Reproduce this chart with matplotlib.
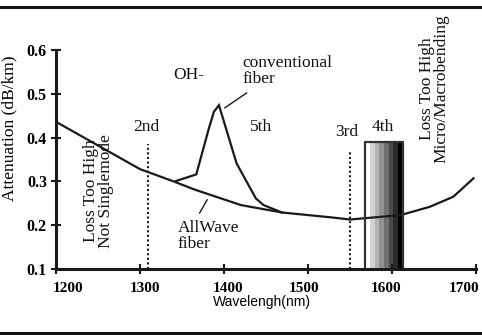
import numpy as np
import matplotlib
matplotlib.use("Agg")
import matplotlib.pyplot as plt
from matplotlib.lines import Line2D
from matplotlib.transforms import ScaledTranslation

# AllWave fiber attenuation curve (nm, dB/km)
allwave_nm = [1200, 1300, 1340, 1364, 1420, 1469, 1527, 1550, 1610, 1645, 1673, 1697]
allwave_db = [0.436, 0.328, 0.300, 0.282, 0.246, 0.229, 0.218, 0.213, 0.223, 0.242, 0.265, 0.307]

# conventional fiber with OH- water peak
conv_nm = [1343, 1367, 1382, 1388, 1394, 1415, 1438, 1447, 1469]
conv_db = [0.301, 0.316, 0.421, 0.459, 0.474, 0.341, 0.261, 0.246, 0.229]

# window markers
window_nm = [1310, 1550]
window_top = [0.385, 0.372]
band_nm = (1568, 1613)
band_top = 0.391
band_greys = ['#ffffff', '#d2d2d2', '#b2b2b2', '#929292', '#707070', '#4a4a4a', '#2a2a2a', '#000000']

xticks = [1200, 1300, 1400, 1500, 1600, 1700]
yticks = [0.1, 0.2, 0.3, 0.4, 0.5, 0.6]
xlabel_shift = [12, 5, 4, -4, -6, -12]  # px, labels sit slightly inward

serif = 'Liberation Serif'
fig = plt.figure(figsize=(4.82, 3.35), dpi=100)
ax = fig.add_axes([56 / 482, 66 / 335, 420 / 482, 219 / 335])

ax.plot(allwave_nm, allwave_db, color='#1a1a1a', lw=1.6, solid_joinstyle='miter')
ax.plot(conv_nm, conv_db, color='#1a1a1a', lw=1.6, solid_joinstyle='miter')

for x, top in zip(window_nm, window_top):
    ax.plot([x, x], [0.1, top], color='#1a1a1a', lw=1.5, ls=(0, (1, 1.2)))

# 4th window gradient band
edges = np.linspace(band_nm[0], band_nm[1], len(band_greys) + 1)
for i, c in enumerate(band_greys):
    ax.fill_between([edges[i], edges[i + 1]], 0.1, band_top, color=c, lw=0, zorder=1)
ax.plot([band_nm[0], band_nm[0], band_nm[1], band_nm[1]], [0.1, band_top, band_top, 0.1],
        color='#333333', lw=1.6, zorder=2)

ax.set_xlim(1200, 1700)
ax.set_ylim(0.1, 0.6)
ax.set_xticks(xticks)
ax.set_yticks(yticks)
ax.set_xticklabels([str(t) for t in xticks], fontfamily=serif, fontweight='bold', fontsize=11)
ax.set_yticklabels([f'{t:.1f}' for t in yticks], fontfamily=serif, fontweight='bold', fontsize=11.5)
ax.tick_params(direction='inout', length=7, width=1.5, color='#1a1a1a', pad=3)
ax.tick_params(axis='x', pad=6)
for lab, dx in zip(ax.get_xticklabels(), xlabel_shift):
    lab.set_transform(lab.get_transform() + ScaledTranslation(dx / 100, 0, fig.dpi_scale_trans))
for s in ['top', 'right']:
    ax.spines[s].set_visible(False)
for s in ['left', 'bottom']:
    ax.spines[s].set_linewidth(2.2)
    ax.spines[s].set_color('#1a1a1a')

ax.set_ylabel('Attenuation (dB/km)', fontfamily=serif, fontsize=12.5)
ax.yaxis.set_label_coords(-0.11, 0.644)
ax.set_xlabel('Wavelengh(nm)', fontfamily='Liberation Sans', fontsize=10)
ax.xaxis.set_label_coords(0.49, -0.151)
ax.xaxis.label.set_va('center')
ax.yaxis.label.set_va('center')

tk = dict(fontfamily=serif, fontsize=12.5, color='#111111')
ax.text(1339, 0.543, 'OH-', ha='left', va='center', **tk)
ax.text(1422, 0.552, 'conventional\nfiber', ha='left', va='center', linespacing=1.0, **tk)
ax.plot([1401, 1427], [0.468, 0.502], color='#1a1a1a', lw=1.0)
ax.text(1307, 0.424, '2nd', ha='center', va='center', **tk)
ax.text(1431, 0.424, '5th', ha='left', va='center', **tk)
ax.text(1546, 0.413, '3rd', ha='center', va='center', **tk)
ax.text(1589, 0.424, '4th', ha='center', va='center', **tk)
ax.text(1345, 0.175, 'AllWave\nfiber', ha='left', va='center', linespacing=0.95, **tk)
ax.plot([1371, 1380], [0.228, 0.258], color='#1a1a1a', lw=1.0)
ax.text(1251, 0.278, 'Loss Too High\nNot Singlemode', rotation=90, ha='center', va='center',
        linespacing=0.9, **tk)
ax.text(1650, 0.511, 'Loss Too High\nMicro/Macrobending', rotation=90, ha='center', va='center',
        linespacing=0.9, **tk)

# frame rules at top and bottom of figure
fig.add_artist(Line2D([0, 1], [1 - 7 / 335, 1 - 7 / 335], color='#111111', lw=2.2))
fig.add_artist(Line2D([0, 1], [1 - 333 / 335, 1 - 333 / 335], color='#111111', lw=2.2))

fig.savefig('out.png', dpi=100)
